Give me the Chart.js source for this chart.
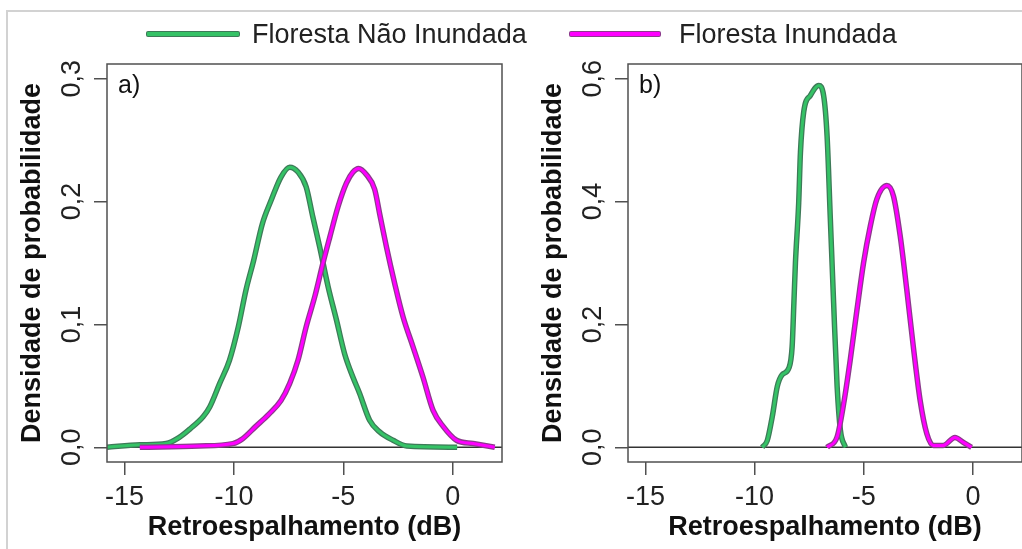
<!DOCTYPE html>
<html>
<head>
<meta charset="utf-8">
<script src="https://cdn.jsdelivr.net/npm/chart.js@4.4.1/dist/chart.umd.min.js"></script>
<style>
  body { margin: 0; background: #fff; width: 1022px; height: 549px; overflow: hidden; position: relative;
         font-family: "Liberation Sans", Arial, sans-serif; }
  #moldura { position: absolute; left: 6px; top: 10px; width: 1100px; height: 700px;
             border-left: 2px solid #d2d2d2; border-top: 2px solid #d2d2d2; }
  .painel { position: absolute; top: 0; }
  .leg-linha { position: absolute; height: 4px; border-radius: 1px; }
  .leg-texto { position: absolute; top: 21px; font-size: 27px; line-height: 27px; color: #222; white-space: nowrap; }
</style>
</head>
<body>
<div id="moldura"></div>
<canvas id="painel-a" class="painel" width="511" height="549" style="left:0"></canvas>
<canvas id="painel-b" class="painel" width="511" height="549" style="left:511px"></canvas>

<div class="leg-linha" style="left:147px;top:32px;width:92px;background:#35c266;box-shadow:0 0 0 1px #3d7a58"></div>
<div class="leg-texto" style="left:252px">Floresta Não Inundada</div>
<div class="leg-linha" style="left:570px;top:32px;width:90px;background:#ff00ff;box-shadow:0 0 0 1px #8c3a8c"></div>
<div class="leg-texto" style="left:679px">Floresta Inundada</div>

<script>
const rotulos = ['Floresta Não Inundada', 'Floresta Inundada'];
const ticksX = [-15, -10, -5, 0];
const ticksYa = [0, 0.1, 0.2, 0.3];
const ticksYb = [0, 0.2, 0.4, 0.6];

// a) densidades
const aNaoInundadaX = [-15.8, -14.3, -13.1, -12.5, -12.0, -11.4, -11.1, -10.65, -10.2, -9.8, -9.45, -9.1, -8.7, -8.3, -7.85, -7.45, -7.07, -6.7, -6.4, -6.08, -5.7, -5.32, -4.94, -4.56, -4.26, -3.8, -3.34, -2.73, -2.1, 0.2];
const aNaoInundadaY = [0, 0.002, 0.003, 0.008, 0.015, 0.025, 0.033, 0.052, 0.071, 0.098, 0.128, 0.152, 0.182, 0.201, 0.220, 0.228, 0.224, 0.212, 0.188, 0.163, 0.131, 0.104, 0.076, 0.057, 0.044, 0.022, 0.0125, 0.0057, 0.001, 0];
const aInundadaX = [-14.3, -11.6, -10.05, -9.6, -9.0, -8.4, -7.85, -7.45, -7.07, -6.7, -6.3, -5.93, -5.62, -5.24, -4.86, -4.56, -4.3, -3.95, -3.57, -3.34, -3.03, -2.65, -2.27, -1.82, -1.36, -0.9, -0.44, 0.17, 0.93, 1.92];
const aInundadaY = [0, 0.001, 0.003, 0.007, 0.017, 0.027, 0.038, 0.052, 0.071, 0.098, 0.123, 0.150, 0.171, 0.196, 0.215, 0.224, 0.227, 0.222, 0.210, 0.190, 0.163, 0.133, 0.106, 0.082, 0.057, 0.030, 0.017, 0.0057, 0.003, 0];

// b) densidades
const bNaoInundadaX = [-9.65, -9.42, -9.19, -8.96, -8.74, -8.43, -8.28, -8.2, -8.13, -7.98, -7.9, -7.75, -7.44, -7.06, -6.84, -6.68, -6.53, -6.38, -6.22, -6.07, -5.84];
const bNaoInundadaY = [0, 0.011, 0.050, 0.099, 0.118, 0.129, 0.164, 0.235, 0.300, 0.398, 0.480, 0.546, 0.573, 0.589, 0.573, 0.507, 0.371, 0.235, 0.099, 0.028, 0];
const bInundadaX = [-6.68, -6.22, -5.92, -5.62, -5.31, -5.01, -4.7, -4.4, -3.94, -3.64, -3.33, -3.03, -2.73, -2.42, -2.11, -1.81, -1.36, -0.82, -0.44, -0.06];
const bInundadaY = [0, 0.017, 0.071, 0.142, 0.224, 0.300, 0.360, 0.404, 0.426, 0.409, 0.344, 0.257, 0.164, 0.077, 0.022, 0.003, 0.003, 0.016, 0.008, 0];

const fonte = '"Liberation Sans", Arial, sans-serif';
const corEixo = '#505050';

function pontos(xs, ys) {
  return xs.map((x, i) => ({ x, y: ys[i] }));
}

function virgula(v) {
  return v.toFixed(1).replace('.', ',');
}

// caixa, linha do zero, letra do painel e rótulos do eixo y (rotacionados)
const moldura = {
  id: 'moldura',
  beforeDatasetsDraw(chart, args, opts) {
    const { ctx, chartArea: ca, scales } = chart;
    const y0 = scales.y.getPixelForValue(0);
    ctx.save();
    ctx.strokeStyle = '#333';
    ctx.lineWidth = 1.5;
    ctx.beginPath();
    ctx.moveTo(ca.left, y0);
    ctx.lineTo(ca.right, y0);
    ctx.stroke();
    ctx.restore();
  },
  afterDraw(chart, args, opts) {
    const { ctx, chartArea: ca, scales } = chart;
    ctx.save();
    ctx.strokeStyle = corEixo;
    ctx.lineWidth = 1.5;
    ctx.strokeRect(ca.left, ca.top, ca.right - ca.left, ca.bottom - ca.top);

    ctx.fillStyle = '#111';
    ctx.font = '25px ' + fonte;
    ctx.textAlign = 'left';
    ctx.textBaseline = 'alphabetic';
    ctx.fillText(opts.letra, ca.left + 11, 93);

    ctx.fillStyle = '#222';
    ctx.font = '27px ' + fonte;
    ctx.textAlign = 'center';
    opts.ticksY.forEach(v => {
      const py = scales.y.getPixelForValue(v);
      ctx.save();
      ctx.translate(opts.baseRotulo, py);
      ctx.rotate(-Math.PI / 2);
      ctx.fillText(virgula(v), 0, 0);
      ctx.restore();
    });
    ctx.restore();
  }
};

function montarPainel(id, letra, xs1, ys1, xs2, ys2, yMin, yMax, ticksY, larguraY, padDir, padTitulo, baseRotulo) {
  const ctx = document.getElementById(id).getContext('2d');
  const comum = { pointRadius: 0, fill: false, cubicInterpolationMode: 'monotone' };

  // order menor = desenhado por cima
  new Chart(ctx, {
    type: 'line',
    data: {
      datasets: [
        { ...comum, label: rotulos[0], data: pontos(xs1, ys1), borderColor: '#3d7a58', borderWidth: 5.5, order: 4 },
        { ...comum, label: rotulos[0], data: pontos(xs1, ys1), borderColor: '#35c266', borderWidth: 3, order: 3 },
        { ...comum, label: rotulos[1], data: pontos(xs2, ys2), borderColor: '#8c3a8c', borderWidth: 5.5, order: 2 },
        { ...comum, label: rotulos[1], data: pontos(xs2, ys2), borderColor: '#ff00ff', borderWidth: 3, order: 1 }
      ]
    },
    options: {
      responsive: false,
      animation: false,
      layout: { padding: { top: 64, right: padDir, left: 0, bottom: 0 } },
      plugins: {
        legend: { display: false },
        tooltip: { enabled: false },
        moldura: { letra, ticksY, baseRotulo }
      },
      scales: {
        x: {
          type: 'linear',
          min: -15.8,
          max: 2.25,
          afterBuildTicks: s => { s.ticks = ticksX.map(v => ({ value: v })); },
          afterFit: s => { s.height = 87; },
          border: { display: false },
          grid: { drawOnChartArea: false, drawTicks: true, tickLength: 13, color: corEixo, lineWidth: 1.5 },
          ticks: { font: { size: 27, family: fonte }, color: '#222', padding: 6, maxRotation: 0, callback: v => String(v) },
          title: {
            display: true,
            text: 'Retroespalhamento (dB)',
            color: '#111',
            font: { size: 27, weight: 'bold', family: fonte },
            padding: { top: 0, bottom: 5 }
          }
        },
        y: {
          type: 'linear',
          min: yMin,
          max: yMax,
          afterBuildTicks: s => { s.ticks = ticksY.map(v => ({ value: v })); },
          afterFit: s => { s.width = larguraY; },
          border: { display: false },
          grid: { drawOnChartArea: false, drawTicks: true, tickLength: 13, color: corEixo, lineWidth: 1.5 },
          ticks: { display: false },
          title: {
            display: true,
            text: 'Densidade de probabilidade',
            color: '#111',
            font: { size: 27, weight: 'bold', family: fonte },
            padding: { top: padTitulo, bottom: 0 }
          }
        }
      }
    },
    plugins: [moldura]
  });
}

montarPainel('painel-a', 'a)', aNaoInundadaX, aNaoInundadaY, aInundadaX, aInundadaY, -0.012, 0.312, ticksYa, 107, 9, 16, 80);
montarPainel('painel-b', 'b)', bNaoInundadaX, bNaoInundadaY, bInundadaX, bInundadaY, -0.024, 0.624, ticksYb, 117, 0, 26, 90);
</script>
</body>
</html>
